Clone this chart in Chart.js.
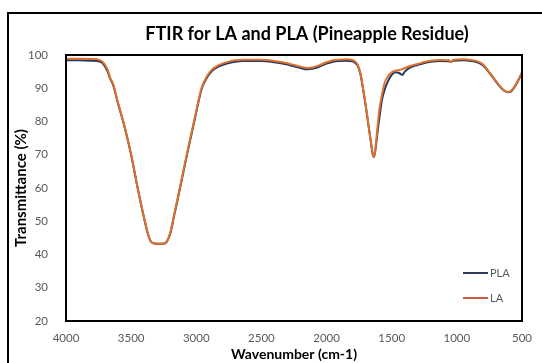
<!DOCTYPE html>
<html>
<head>
<meta charset="utf-8">
<script src="https://cdn.jsdelivr.net/npm/chart.js@4.4.1/dist/chart.umd.min.js"></script>
<style>
  body { margin: 0; background: #fff; }
  #wrap { position: relative; width: 542px; height: 363px; overflow: hidden; }
  #frame { position: absolute; left: 7px; top: 12px; width: 600px; height: 400px; border: 2px solid #000; }
  #chart { position: absolute; left: 0; top: 0; }
</style>
</head>
<body>
<div id="wrap">
  <div id="frame"></div>
  <canvas id="chart" width="542" height="363"></canvas>
</div>
<script>
// Wavenumber (cm-1) and transmittance (%)
const wavenumbers = [4000, 3900, 3800, 3750, 3720, 3700, 3680, 3660, 3640, 3600, 3550, 3500, 3450, 3400, 3370, 3350, 3320, 3280, 3240, 3225, 3200, 3170, 3146, 3100, 3066, 3010, 2960, 2920, 2880, 2844, 2800, 2750, 2700, 2650, 2500, 2400, 2300, 2250, 2200, 2150, 2100, 2050, 2000, 1950, 1900, 1850, 1800, 1780, 1760, 1740, 1720, 1700, 1680, 1660, 1645, 1636, 1625, 1610, 1595, 1575, 1555, 1530, 1500, 1470, 1440, 1420, 1400, 1360, 1300, 1250, 1200, 1130, 1060, 1045, 1030, 950, 900, 850, 800, 750, 700, 650, 620, 600, 580, 550, 520, 500];

const plaValues = [98.4, 98.4, 98.3, 98.1, 97.6, 96.5, 95.0, 92.8, 91.2, 85.3, 78.3, 70.0, 60.0, 50.8, 46.0, 44.0, 43.3, 43.2, 43.4, 43.9, 46.3, 51.7, 56.0, 64.6, 71.0, 81.0, 89.6, 93.1, 95.2, 96.2, 97.0, 97.6, 98.0, 98.2, 98.2, 97.8, 97.1, 96.6, 96.1, 95.7, 95.9, 96.6, 97.4, 98.0, 98.2, 98.3, 98.1, 97.6, 96.7, 94.2, 89.8, 84.8, 79.3, 73.9, 70.0, 69.3, 71.5, 76.5, 81.0, 86.5, 89.5, 92.0, 94.0, 94.8, 94.5, 94.0, 95.0, 96.2, 97.0, 97.6, 98.0, 98.2, 98.1, 97.9, 98.3, 98.4, 98.3, 97.9, 96.9, 94.6, 92.0, 89.7, 88.9, 88.8, 89.2, 90.8, 93.0, 94.6];

const laValues = [98.9, 98.9, 98.8, 98.6, 98.0, 97.0, 95.5, 93.0, 91.5, 85.5, 78.5, 70.1, 60.0, 51.0, 46.0, 44.0, 43.3, 43.2, 43.4, 44.0, 46.5, 52.0, 56.4, 65.0, 71.4, 81.4, 90.0, 93.5, 95.6, 96.6, 97.4, 98.0, 98.4, 98.6, 98.6, 98.2, 97.5, 97.0, 96.5, 96.1, 96.3, 97.0, 97.8, 98.4, 98.6, 98.7, 98.5, 98.0, 97.0, 94.5, 90.0, 85.0, 79.5, 74.0, 70.0, 69.3, 72.0, 78.0, 83.5, 88.0, 91.5, 93.5, 94.8, 95.3, 95.5, 95.7, 96.1, 96.7, 97.3, 97.9, 98.3, 98.5, 98.4, 97.8, 98.5, 98.7, 98.6, 98.2, 97.2, 94.8, 92.2, 89.8, 89.0, 88.9, 89.4, 91.0, 93.2, 94.8];

const seriesNames = ["PLA", "LA"];
const seriesColors = ["#1F3864", "#E0702A"];
const legendColors = ["#2E3A5C", "#C8583E"];

const xTicks = [500, 1000, 1500, 2000, 2500, 3000, 3500, 4000];
const yTicks = [20, 30, 40, 50, 60, 70, 80, 90, 100];

const toPoints = vals => wavenumbers.map((w, i) => ({ x: w, y: vals[i] }));

// titre, cadre du graphique et legende dessines a la main
const extras = {
    id: "extras",
    afterDraw(chart) {
        const ctx = chart.ctx;
        const a = chart.chartArea;
        ctx.save();
        ctx.strokeStyle = "#000";
        ctx.lineWidth = 2;
        ctx.strokeRect(a.left, a.top, a.right - a.left, a.bottom - a.top);

        ctx.fillStyle = "#000";
        ctx.font = "bold 18px Lato";
        ctx.textAlign = "center";
        ctx.textBaseline = "middle";
        ctx.fillText("FTIR for LA and PLA (Pineapple Residue)", 307, 34);

        ctx.font = "11px Lato";
        ctx.textAlign = "left";
        seriesNames.forEach((name, i) => {
            const y = 273 + i * 25;
            ctx.strokeStyle = legendColors[i];
            ctx.lineWidth = 2;
            ctx.beginPath();
            ctx.moveTo(463, y);
            ctx.lineTo(488, y);
            ctx.stroke();
            ctx.fillStyle = "#595959";
            ctx.fillText(name, 490, y);
        });
        ctx.restore();
    }
};

new Chart(document.getElementById("chart"), {
    type: "line",
    data: {
        datasets: [
            { label: seriesNames[0], data: toPoints(plaValues), borderColor: seriesColors[0], order: 1 },
            { label: seriesNames[1], data: toPoints(laValues), borderColor: seriesColors[1], order: 0 }
        ]
    },
    options: {
        responsive: false,
        animation: false,
        layout: { padding: { top: 55, right: 20, left: 0, bottom: 0 } },
        elements: {
            point: { radius: 0 },
            line: { borderWidth: 2, cubicInterpolationMode: "monotone" }
        },
        plugins: { legend: { display: false }, tooltip: { enabled: false } },
        scales: {
            x: {
                type: "linear",
                reverse: true,
                min: 500,
                max: 4000,
                afterBuildTicks: s => { s.ticks = xTicks.map(v => ({ value: v })); },
                afterFit: s => { s.height = 42; },
                grid: { display: false },
                border: { display: false },
                ticks: { color: "#595959", font: { family: "Lato", size: 11.5 }, padding: 2, callback: v => String(v) },
                title: { display: true, text: "Wavenumber (cm-1)", color: "#000", font: { family: "Lato", size: 14, weight: "bold" }, padding: { top: 0, bottom: 0 } }
            },
            y: {
                min: 20,
                max: 100,
                afterBuildTicks: s => { s.ticks = yTicks.map(v => ({ value: v })); },
                afterFit: s => { s.width = 66; },
                grid: { display: false },
                border: { display: false },
                ticks: { color: "#595959", font: { family: "Lato", size: 11.5 }, padding: 10 },
                title: { display: true, text: "Transmittance (%)", color: "#000", font: { family: "Lato", size: 15, weight: "bold" }, padding: { top: 12, bottom: 0 } }
            }
        }
    },
    plugins: [extras]
});
</script>
</body>
</html>
